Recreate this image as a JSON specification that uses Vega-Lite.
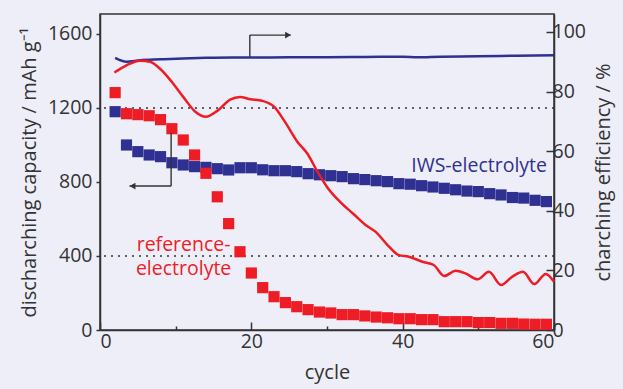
{
  "$schema": "https://vega.github.io/schema/vega-lite/v6.json",
  "width": 454,
  "height": 316,
  "autosize": {"type": "none"},
  "padding": {"left": 100, "top": 14, "right": 69, "bottom": 59},
  "background": "#eeeef8",
  "config": {
    "font": "Open Sans",
    "view": {"stroke": "#333333", "strokeWidth": 1.5},
    "axis": {
      "labelFont": "Open Sans", "titleFont": "Open Sans",
      "labelFontSize": 19.5, "titleFontSize": 20,
      "labelColor": "#333333", "titleColor": "#333333",
      "titleFontWeight": "normal",
      "domainColor": "#333333", "tickColor": "#333333",
      "domainWidth": 1.5, "tickWidth": 1.5, "grid": false
    }
  },
  "datasets": {
    "cap": [
      {"series": "IWS", "cycle": 2, "cap": 1180}, {"series": "IWS", "cycle": 3.5, "cap": 1000}, {"series": "IWS", "cycle": 5, "cap": 964}, {"series": "IWS", "cycle": 6.5, "cap": 946}, {"series": "IWS", "cycle": 8, "cap": 937}, {"series": "IWS", "cycle": 9.5, "cap": 904}, {"series": "IWS", "cycle": 11, "cap": 892}, {"series": "IWS", "cycle": 12.5, "cap": 883}, {"series": "IWS", "cycle": 14, "cap": 879}, {"series": "IWS", "cycle": 15.5, "cap": 872}, {"series": "IWS", "cycle": 17, "cap": 865}, {"series": "IWS", "cycle": 18.5, "cap": 877}, {"series": "IWS", "cycle": 20, "cap": 877}, {"series": "IWS", "cycle": 21.5, "cap": 866}, {"series": "IWS", "cycle": 23, "cap": 861}, {"series": "IWS", "cycle": 24.5, "cap": 861}, {"series": "IWS", "cycle": 26, "cap": 856}, {"series": "IWS", "cycle": 27.5, "cap": 845}, {"series": "IWS", "cycle": 29, "cap": 839}, {"series": "IWS", "cycle": 30.5, "cap": 834}, {"series": "IWS", "cycle": 32, "cap": 829}, {"series": "IWS", "cycle": 33.5, "cap": 818}, {"series": "IWS", "cycle": 35, "cap": 813}, {"series": "IWS", "cycle": 36.5, "cap": 807}, {"series": "IWS", "cycle": 38, "cap": 802}, {"series": "IWS", "cycle": 39.5, "cap": 791}, {"series": "IWS", "cycle": 41, "cap": 788}, {"series": "IWS", "cycle": 42.5, "cap": 780}, {"series": "IWS", "cycle": 44, "cap": 773}, {"series": "IWS", "cycle": 45.5, "cap": 766}, {"series": "IWS", "cycle": 47, "cap": 758}, {"series": "IWS", "cycle": 48.5, "cap": 751}, {"series": "IWS", "cycle": 50, "cap": 748}, {"series": "IWS", "cycle": 51.5, "cap": 737}, {"series": "IWS", "cycle": 53, "cap": 730}, {"series": "IWS", "cycle": 54.5, "cap": 716}, {"series": "IWS", "cycle": 56, "cap": 713}, {"series": "IWS", "cycle": 57.5, "cap": 701}, {"series": "IWS", "cycle": 59, "cap": 694},
      {"series": "reference", "cycle": 2, "cap": 1283}, {"series": "reference", "cycle": 3.5, "cap": 1169}, {"series": "reference", "cycle": 5, "cap": 1164}, {"series": "reference", "cycle": 6.5, "cap": 1158}, {"series": "reference", "cycle": 8, "cap": 1137}, {"series": "reference", "cycle": 9.5, "cap": 1088}, {"series": "reference", "cycle": 11, "cap": 1027}, {"series": "reference", "cycle": 12.5, "cap": 946}, {"series": "reference", "cycle": 14, "cap": 847}, {"series": "reference", "cycle": 15.5, "cap": 720}, {"series": "reference", "cycle": 17, "cap": 575}, {"series": "reference", "cycle": 18.5, "cap": 423}, {"series": "reference", "cycle": 20, "cap": 308}, {"series": "reference", "cycle": 21.5, "cap": 229}, {"series": "reference", "cycle": 23, "cap": 180}, {"series": "reference", "cycle": 24.5, "cap": 148}, {"series": "reference", "cycle": 26, "cap": 126}, {"series": "reference", "cycle": 27.5, "cap": 110}, {"series": "reference", "cycle": 29, "cap": 97}, {"series": "reference", "cycle": 30.5, "cap": 92}, {"series": "reference", "cycle": 32, "cap": 83}, {"series": "reference", "cycle": 33.5, "cap": 83}, {"series": "reference", "cycle": 35, "cap": 76}, {"series": "reference", "cycle": 36.5, "cap": 70}, {"series": "reference", "cycle": 38, "cap": 66}, {"series": "reference", "cycle": 39.5, "cap": 61}, {"series": "reference", "cycle": 41, "cap": 61}, {"series": "reference", "cycle": 42.5, "cap": 56}, {"series": "reference", "cycle": 44, "cap": 56}, {"series": "reference", "cycle": 45.5, "cap": 45}, {"series": "reference", "cycle": 47, "cap": 45}, {"series": "reference", "cycle": 48.5, "cap": 45}, {"series": "reference", "cycle": 50, "cap": 40}, {"series": "reference", "cycle": 51.5, "cap": 40}, {"series": "reference", "cycle": 53, "cap": 36}, {"series": "reference", "cycle": 54.5, "cap": 36}, {"series": "reference", "cycle": 56, "cap": 32}, {"series": "reference", "cycle": 57.5, "cap": 31}, {"series": "reference", "cycle": 59, "cap": 31}
    ],
    "eff": [
      {"series": "IWS", "cycle": 2, "eff": 91.3}, {"series": "IWS", "cycle": 3.5, "eff": 90.0}, {"series": "IWS", "cycle": 5.3, "eff": 90.5}, {"series": "IWS", "cycle": 8, "eff": 90.8}, {"series": "IWS", "cycle": 11, "eff": 91.1}, {"series": "IWS", "cycle": 14, "eff": 91.3}, {"series": "IWS", "cycle": 17.5, "eff": 91.4}, {"series": "IWS", "cycle": 20, "eff": 91.4}, {"series": "IWS", "cycle": 25, "eff": 91.5}, {"series": "IWS", "cycle": 30, "eff": 91.5}, {"series": "IWS", "cycle": 35, "eff": 91.6}, {"series": "IWS", "cycle": 40, "eff": 91.7}, {"series": "IWS", "cycle": 42, "eff": 91.5}, {"series": "IWS", "cycle": 45, "eff": 91.7}, {"series": "IWS", "cycle": 50, "eff": 91.8}, {"series": "IWS", "cycle": 55, "eff": 92.0}, {"series": "IWS", "cycle": 60, "eff": 92.2},
      {"series": "reference", "cycle": 1.9, "eff": 86.4}, {"series": "reference", "cycle": 3.5, "eff": 88.8}, {"series": "reference", "cycle": 5.3, "eff": 90.3}, {"series": "reference", "cycle": 6.6, "eff": 90.0}, {"series": "reference", "cycle": 7.9, "eff": 87.7}, {"series": "reference", "cycle": 9.5, "eff": 83.2}, {"series": "reference", "cycle": 11, "eff": 78.2}, {"series": "reference", "cycle": 12.6, "eff": 73.2}, {"series": "reference", "cycle": 14, "eff": 71.5}, {"series": "reference", "cycle": 15.5, "eff": 73.5}, {"series": "reference", "cycle": 17.2, "eff": 77.3}, {"series": "reference", "cycle": 18.5, "eff": 78.2}, {"series": "reference", "cycle": 19.9, "eff": 77.4}, {"series": "reference", "cycle": 21.4, "eff": 76.9}, {"series": "reference", "cycle": 23, "eff": 74.9}, {"series": "reference", "cycle": 24.3, "eff": 70.4}, {"series": "reference", "cycle": 26.1, "eff": 63.1}, {"series": "reference", "cycle": 27.4, "eff": 59.2}, {"series": "reference", "cycle": 28.7, "eff": 53.3}, {"series": "reference", "cycle": 30, "eff": 48.0}, {"series": "reference", "cycle": 31.8, "eff": 42.8}, {"series": "reference", "cycle": 33.5, "eff": 38.9}, {"series": "reference", "cycle": 35.1, "eff": 35.2}, {"series": "reference", "cycle": 36.4, "eff": 33.0}, {"series": "reference", "cycle": 38, "eff": 28.5}, {"series": "reference", "cycle": 39.5, "eff": 25.1}, {"series": "reference", "cycle": 40.8, "eff": 24.6}, {"series": "reference", "cycle": 42.6, "eff": 22.9}, {"series": "reference", "cycle": 44.1, "eff": 21.8}, {"series": "reference", "cycle": 45.5, "eff": 18.1}, {"series": "reference", "cycle": 47, "eff": 19.9}, {"series": "reference", "cycle": 48.3, "eff": 19.0}, {"series": "reference", "cycle": 49.9, "eff": 17.0}, {"series": "reference", "cycle": 51.4, "eff": 19.5}, {"series": "reference", "cycle": 53, "eff": 15.1}, {"series": "reference", "cycle": 54.5, "eff": 17.9}, {"series": "reference", "cycle": 55.9, "eff": 19.5}, {"series": "reference", "cycle": 57.4, "eff": 15.4}, {"series": "reference", "cycle": 58.9, "eff": 18.8}, {"series": "reference", "cycle": 60, "eff": 16.2}
    ]
  },
  "layer": [
    {
      "layer": [
        {
          "data": {"values": [{"level": 400}, {"level": 1200}]},
          "mark": {"type": "rule", "color": "#333333", "strokeWidth": 1.5, "strokeDash": [2, 5]},
          "encoding": {
            "y": {"field": "level", "type": "quantitative", "scale": {"domain": [0, 1708], "nice": false},
              "axis": {"orient": "left", "title": "discharching capacity / mAh g⁻¹", "values": [0, 200, 400, 600, 800, 1000, 1200, 1400, 1600],
                "labelExpr": "datum.value % 400 === 0 ? datum.label : ''", "format": "d", "tickSize": 4, "labelPadding": 4, "titlePadding": 8}}
          }
        },
        {
          "data": {"name": "cap"},
          "mark": {"type": "point", "shape": "square", "filled": true, "size": 125, "opacity": 1, "strokeWidth": 0},
          "encoding": {
            "x": {"field": "cycle", "type": "quantitative", "scale": {"domain": [0, 60], "nice": false},
              "axis": {"orient": "bottom", "title": "cycle", "values": [0, 10, 20, 30, 40, 50, 60],
                "labelExpr": "datum.value % 20 === 0 ? datum.label : ''",
                "tickSize": {"condition": {"test": "datum.value % 20 === 0", "value": -8}, "value": -4},
                "labelPadding": 10, "titlePadding": 12}},
            "y": {"field": "cap", "type": "quantitative"},
            "color": {"field": "series", "type": "nominal", "scale": {"domain": ["IWS", "reference"], "range": ["#2e3192", "#ee1c25"]}, "legend": null}
          }
        },
        {
          "data": {"values": [
            {"x": 19.8, "y": 1474, "x2": 19.8, "y2": 1594},
            {"x": 19.8, "y": 1594, "x2": 25.2, "y2": 1594},
            {"x": 9.4, "y": 1065, "x2": 9.4, "y2": 778},
            {"x": 9.4, "y": 778, "x2": 3.9, "y2": 778}
          ]},
          "mark": {"type": "rule", "color": "#333333", "strokeWidth": 1.4},
          "encoding": {
            "x": {"field": "x", "type": "quantitative"},
            "x2": {"field": "x2"},
            "y": {"field": "y", "type": "quantitative"},
            "y2": {"field": "y2"}
          }
        },
        {
          "data": {"values": [
            {"x": 24.85, "y": 1594, "dir": "right"},
            {"x": 4.3, "y": 778, "dir": "left"}
          ]},
          "mark": {"type": "point", "filled": true, "size": 45, "color": "#333333", "opacity": 1, "strokeWidth": 0},
          "encoding": {
            "x": {"field": "x", "type": "quantitative"},
            "y": {"field": "y", "type": "quantitative"},
            "shape": {"field": "dir", "type": "nominal", "scale": {"domain": ["right", "left"], "range": ["triangle-right", "triangle-left"]}, "legend": null}
          }
        },
        {
          "data": {"values": [
            {"x": 50.1, "y": 854, "text": "IWS-electrolyte", "series": "IWS"},
            {"x": 11.05, "y": 429, "text": "reference-", "series": "reference"},
            {"x": 11.05, "y": 295, "text": "electrolyte", "series": "reference"}
          ]},
          "mark": {"type": "text", "font": "Open Sans", "fontSize": 19.5, "baseline": "alphabetic", "align": "center"},
          "encoding": {
            "x": {"field": "x", "type": "quantitative"},
            "y": {"field": "y", "type": "quantitative"},
            "text": {"field": "text"},
            "color": {"field": "series", "type": "nominal", "scale": {"domain": ["IWS", "reference"], "range": ["#2e3192", "#ee1c25"]}, "legend": null}
          }
        }
      ]
    },
    {
      "data": {"name": "eff"},
      "mark": {"type": "line", "strokeWidth": 2.5, "interpolate": "monotone"},
      "encoding": {
        "x": {"field": "cycle", "type": "quantitative", "scale": {"domain": [0, 60], "nice": false}},
        "y": {"field": "eff", "type": "quantitative", "scale": {"domain": [0, 106], "nice": false},
          "axis": {"orient": "right", "title": "charching efficiency / %", "values": [0, 20, 40, 60, 80, 100], "tickSize": -8, "labelPadding": 6, "titlePadding": 8, "titleAngle": -90, "titleBaseline": "top"}},
        "color": {"field": "series", "type": "nominal", "scale": {"domain": ["IWS", "reference"], "range": ["#2e3192", "#ee1c25"]}, "legend": null},
        "detail": {"field": "series"}
      }
    }
  ],
  "resolve": {"scale": {"y": "independent"}}
}
